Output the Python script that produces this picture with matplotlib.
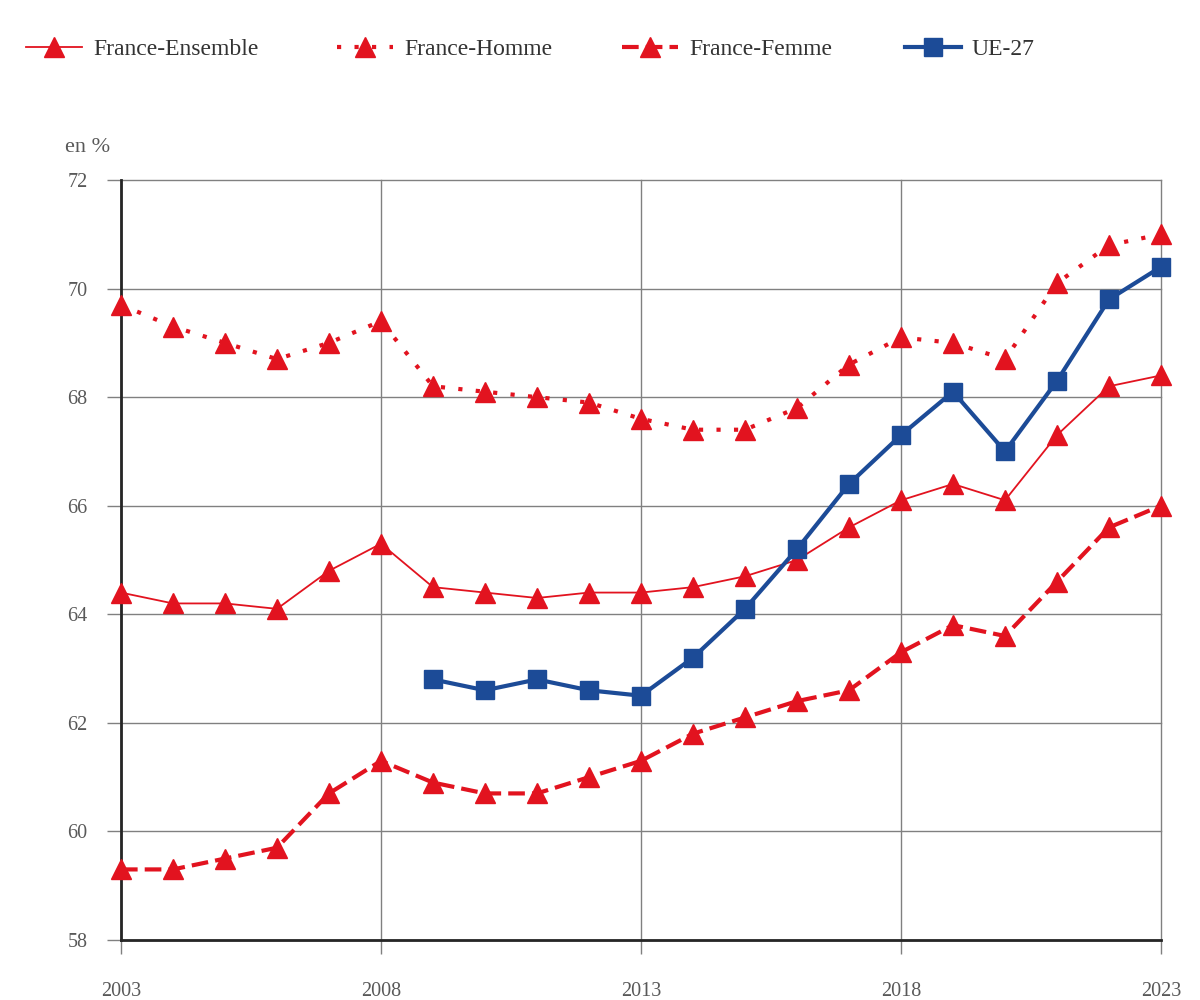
import numpy as np
import matplotlib.pyplot as plt

plt.rcParams['font.family'] = ['Liberation Serif', 'DejaVu Serif']

## data
years = list(range(2003, 2024))
ensemble = [64.4, 64.2, 64.2, 64.1, 64.8, 65.3, 64.5, 64.4, 64.3, 64.4, 64.4,
            64.5, 64.7, 65.0, 65.6, 66.1, 66.4, 66.1, 67.3, 68.2, 68.4]
homme = [69.7, 69.3, 69.0, 68.7, 69.0, 69.4, 68.2, 68.1, 68.0, 67.9, 67.6,
         67.4, 67.4, 67.8, 68.6, 69.1, 69.0, 68.7, 70.1, 70.8, 71.0]
femme = [59.3, 59.3, 59.5, 59.7, 60.7, 61.3, 60.9, 60.7, 60.7, 61.0, 61.3,
         61.8, 62.1, 62.4, 62.6, 63.3, 63.8, 63.6, 64.6, 65.6, 66.0]
ue_years = list(range(2009, 2024))
ue27 = [62.8, 62.6, 62.8, 62.6, 62.5, 63.2, 64.1, 65.2, 66.4, 67.3, 68.1,
        67.0, 68.3, 69.8, 70.4]
x_ticks = [2003, 2008, 2013, 2018, 2023]
y_ticks = [58, 60, 62, 64, 66, 68, 70, 72]

red = '#E2131F'
blue = '#1C4B97'
grey = '#595959'

fig = plt.figure(figsize=(12, 10), dpi=100)
ax = fig.add_axes([0.1008, 0.06, 0.8667, 0.76])

l1, = ax.plot(years, ensemble, color=red, lw=1.3, marker='^', ms=14,
              label='France-Ensemble', clip_on=False, zorder=3)
l2, = ax.plot(years, homme, color=red, lw=3, linestyle=(0, (1, 3.2)),
              marker='^', ms=14, label='France-Homme', clip_on=False, zorder=3)
l3, = ax.plot(years, femme, color=red, lw=3, linestyle=(0, (4, 1.7)),
              marker='^', ms=14, label='France-Femme', clip_on=False, zorder=3)
l4, = ax.plot(ue_years, ue27, color=blue, lw=3, marker='s', ms=13,
              label='UE-27', clip_on=False, zorder=4)

ax.set_xlim(2003, 2023)
ax.set_ylim(58, 72)
ax.set_xticks(x_ticks)
ax.set_yticks(y_ticks)
ax.grid(True, color='#808080', lw=1)
ax.set_axisbelow(True)
for gl in ax.get_xgridlines() + ax.get_ygridlines():
    gl.set_clip_on(False)
for s in ['top', 'right']:
    ax.spines[s].set_visible(False)
for s in ['left', 'bottom']:
    ax.spines[s].set_color('#262626')
    ax.spines[s].set_linewidth(2)
ax.tick_params(axis='both', length=10, width=1, color='#808080',
               labelcolor=grey, labelsize=14.5)
ax.tick_params(axis='x', pad=20)
ax.tick_params(axis='y', pad=14)

fig.text(0.054, 0.853, 'en %', fontsize=16, color=grey, va='center')

# legend, one entry at a time to get the spacing
leg_x = [0.0138, 0.273, 0.5105, 0.746]
for h, xx in zip([l1, l2, l3, l4], leg_x):
    lg = fig.legend([h], [h.get_label()], loc='center left',
                    bbox_to_anchor=(xx, 0.951), frameon=False, fontsize=17,
                    handlelength=2.37, handletextpad=0.47, borderaxespad=0)
    lg.get_texts()[0].set_color('#333333')

plt.savefig('out.png', dpi=100)
